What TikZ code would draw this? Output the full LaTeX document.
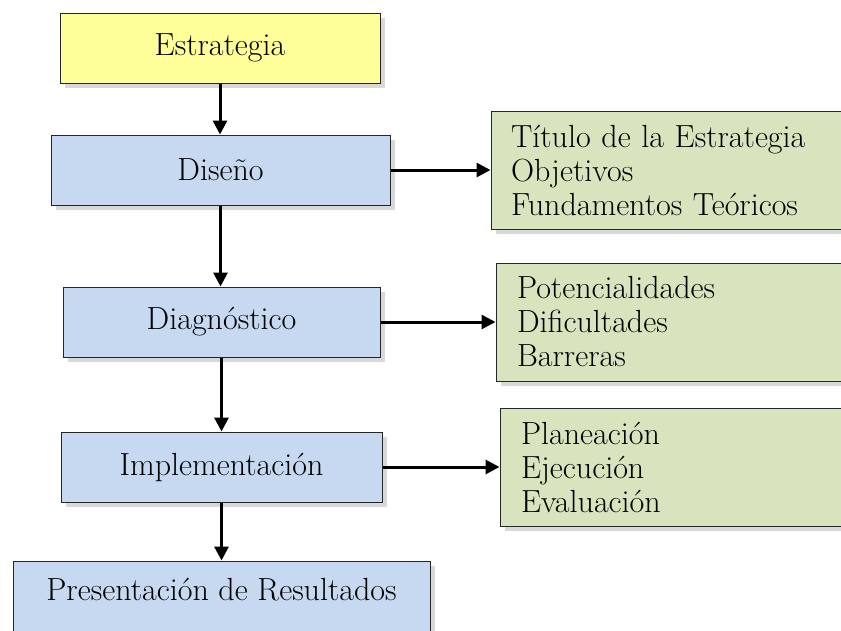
\documentclass[tikz,border=0pt]{standalone}
\usepackage{fontspec}
\usetikzlibrary{calc}
\usetikzlibrary{arrows.meta}
\usetikzlibrary{shadows}
\definecolor{stepyellow}{HTML}{FFFF99}
\definecolor{stepblue}{HTML}{C6D9F1}
\definecolor{itemgreen}{HTML}{D7E4BD}
\tikzstyle{stepbox} = [draw=black!85, line width=1pt, rectangle, fill=stepblue, drop shadow={shadow xshift=5pt, shadow yshift=-5pt, fill=black!30}, minimum height=70pt, font=\fontsize{32}{34}\selectfont]
\tikzstyle{listbox} = [draw=black!85, line width=1pt, rectangle, fill=itemgreen, drop shadow={shadow xshift=5pt, shadow yshift=-5pt, fill=black!30}, anchor=west, text width=330pt, inner xsep=21pt, align=left, minimum height=118pt, font=\fontsize{32}{34}\selectfont]
\tikzstyle{flow} = [line width=3pt, -{Triangle[length=14pt, width=14pt]}]

\begin{document}
\begin{tikzpicture}[x=1pt, y=-1pt]
\clip (0,0) rectangle (841,630);
\node[stepbox, fill=stepyellow, minimum width=320pt] (estr) at (220,48) {Estrategia};
\node[stepbox, minimum width=339pt] (diseno) at ($(estr)+(0.5,122)$) {Diseño};
\node[stepbox, minimum width=317pt] (diag) at ($(diseno)+(1,152)$) {Diagnóstico};
\node[stepbox, minimum width=321pt] (impl) at ($(diag)+(0,145)$) {Implementación};
\node[stepbox, minimum width=417pt, anchor=north, text height=22pt, text depth=42pt, inner ysep=17pt] (pres) at ($(impl.south)+(0,58)$) {Presentación de Resultados};

\node[listbox, inner xsep=20pt] (goals) at ($(diseno.east)+(100,0)$) {Título de la Estrategia\\Objetivos\\Fundamentos Teóricos};
\node[listbox] (state) at ($(diag.east)+(115,0)$) {Potencialidades\\Dificultades\\Barreras};
\node[listbox] (phases) at ($(impl.east)+(117,0)$) {Planeación\\Ejecución\\Evaluación};

\draw[flow] (estr.south) -- (estr.south |- diseno.north);
\draw[flow] (diseno.south) -- (diseno.south |- diag.north);
\draw[flow] (diag.south) -- (diag.south |- impl.north);
\draw[flow] (impl.south) -- (impl.south |- pres.north);
\draw[flow] (diseno.east) -- (goals.west |- diseno.east);
\draw[flow] (diag.east) -- (state.west |- diag.east);
\draw[flow] (impl.east) -- (phases.west |- impl.east);
\end{tikzpicture}
\end{document}
